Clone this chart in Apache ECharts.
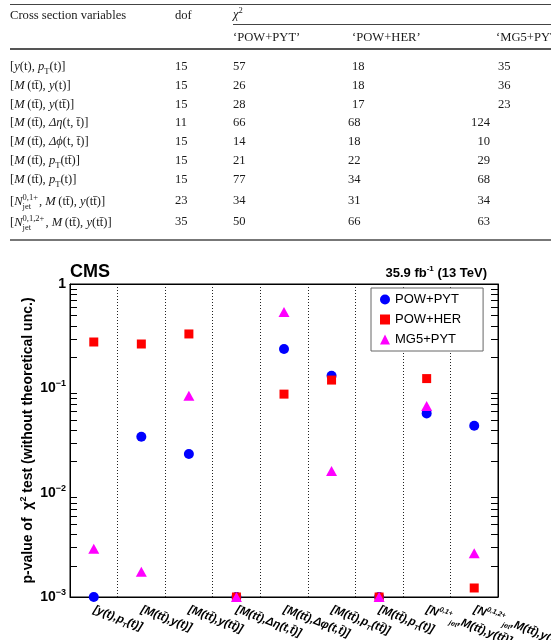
<!DOCTYPE html>
<html>
<head>
<meta charset="utf-8">
<title>p-value of chi2 test</title>
<script src="https://cdn.jsdelivr.net/npm/echarts@6/dist/echarts.min.js"></script>
<style>
    body{margin:0;background:#fff;}
    #main{position:absolute;left:0;top:0;width:551px;height:640px;}
    #tbl{position:absolute;left:0;top:0;width:551px;height:245px;overflow:hidden;z-index:2;
         font-family:"Liberation Serif","Times New Roman",serif;font-size:12.6px;color:#1a1a1a;}
    .c{position:absolute;white-space:nowrap;line-height:14px;height:14px;}
    .r{text-align:right;}
    .rule{position:absolute;left:10px;right:0;}
    sub,sup{font-size:8.5px;line-height:0;}
    .ss{display:inline-flex;flex-direction:column;vertical-align:middle;font-size:8.5px;line-height:9px;margin-right:1px;}
</style>
</head>
<body>
<div id="main"></div>
<div id="tbl"></div>
<script>
// ---- table values (chi2 per model)
var rowLabels = [
    '[<i>y</i>(t), <i>p</i><sub>T</sub>(t)]',
    '[<i>M</i>\u2009(tt\u0304), <i>y</i>(t)]',
    '[<i>M</i>\u2009(tt\u0304), <i>y</i>(tt\u0304)]',
    '[<i>M</i>\u2009(tt\u0304), <i>\u0394\u03b7</i>(t, t\u0304)]',
    '[<i>M</i>\u2009(tt\u0304), <i>\u0394\u03d5</i>(t, t\u0304)]',
    '[<i>M</i>\u2009(tt\u0304), <i>p</i><sub>T</sub>(tt\u0304)]',
    '[<i>M</i>\u2009(tt\u0304), <i>p</i><sub>T</sub>(t)]',
    '[<i>N</i><span class="ss"><span>0,1+</span><span>jet</span></span>, <i>M</i>\u2009(tt\u0304), <i>y</i>(tt\u0304)]',
    '[<i>N</i><span class="ss"><span>0,1,2+</span><span>jet</span></span>, <i>M</i>\u2009(tt\u0304), <i>y</i>(tt\u0304)]'
];
var dof        = [15, 15, 15, 11, 15, 15, 15, 23, 35];
var chi2PowPyt = [57, 26, 28, 66, 14, 21, 77, 34, 50];
var chi2PowHer = [18, 18, 17, 68, 18, 22, 34, 31, 66];
var chi2Mg5Pyt = [35, 36, 23, 124, 10, 29, 68, 34, 63];

// ---- plot values (p-values, 0.001 = off scale at the bottom)
var categories = [
    '{n|[y(t),p}{sub|T}{n|(t)]}',
    '{n|[M(tt\u0304),y(t)]}',
    '{n|[M(tt\u0304),y(tt\u0304)]}',
    '{n|[M(tt\u0304),\u0394\u03b7(t,t\u0304)]}',
    '{n|[M(tt\u0304),\u0394\u03c6(t,t\u0304)]}',
    '{n|[M(tt\u0304),p}{sub|T}{n|(tt\u0304)]}',
    '{n|[M(tt\u0304),p}{sub|T}{n|(t)]}',
    '{n|[N}{sup|0,1+}{sub|jet}{n|,M(tt\u0304),y(tt\u0304)]}',
    '{n|[N}{sup|0,1,2+}{sub|jet}{n|,M(tt\u0304),y(tt\u0304)]}'
];
var pPowPyt = [0.001, 0.0344, 0.0235, 0.001, 0.238, 0.132, 0.001, 0.0575, 0.0438];
var pPowHer = [0.278, 0.266, 0.332, 0.001, 0.088, 0.120, 0.001, 0.124, 0.00122];
var pMg5Pyt = [0.0029, 0.00175, 0.085, 0.001, 0.54, 0.0161, 0.001, 0.0676, 0.00263];
var seriesNames = ['POW+PYT', 'POW+HER', 'MG5+PYT'];

// ---- table
var tbl = document.getElementById('tbl');
function cell(html, x, y, right) {
    var d = document.createElement('div');
    d.className = 'c' + (right ? ' r' : '');
    d.innerHTML = html;
    d.style.top = (y - 7) + 'px';
    if (right) { d.style.right = (551 - x) + 'px'; } else { d.style.left = x + 'px'; }
    tbl.appendChild(d);
}
function rule(y, h, color, left) {
    var d = document.createElement('div');
    d.className = 'rule';
    d.style.top = y + 'px';
    d.style.height = h + 'px';
    d.style.background = color;
    if (left) d.style.left = left + 'px';
    tbl.appendChild(d);
}
rule(4, 1, '#444');
cell('Cross section variables', 10, 15);
cell('dof', 175, 15);
cell('<i>\u03c7</i><sup>2</sup>', 233, 14);
rule(24, 1, '#444', 233);
cell('\u2018POW+PYT\u2019', 233, 37);
cell('\u2018POW+HER\u2019', 352, 37);
cell('\u2018MG5+PYT\u2019', 496, 37);
rule(48, 2, '#555');
var rowY = [66, 85, 104, 122, 141, 160, 179, 200, 221];
for (var i = 0; i < rowLabels.length; i++) {
    cell(rowLabels[i], 10, rowY[i]);
    cell(String(dof[i]), 175, rowY[i]);
    cell(String(chi2PowPyt[i]), 233, rowY[i]);
    cell(String(chi2PowHer[i]), i < 3 ? 352 : 348, rowY[i]);
    if (i < 3) cell(String(chi2Mg5Pyt[i]), 498, rowY[i]);
    else cell(String(chi2Mg5Pyt[i]), 490, rowY[i], true);
}
rule(239, 2, '#777');

// ---- chart
var minorTicks = [];
[0.001, 0.01, 0.1].forEach(function (d) {
    for (var k = 2; k <= 9; k++) minorTicks.push([0, k * d]);
});

var font = '"Liberation Sans", Arial, sans-serif';
var supLabel = {
    b: {fontFamily: font, fontWeight: 'bold', fontSize: 14, lineHeight: 18, color: '#000'},
    s: {fontFamily: font, fontWeight: 'bold', fontSize: 9, lineHeight: 10, verticalAlign: 'top', color: '#000'}
};
var xRich = {
    n: {fontFamily: font, fontWeight: 'bold', fontStyle: 'italic', fontSize: 11.5, lineHeight: 16, color: '#000'},
    sub: {fontFamily: font, fontWeight: 'bold', fontStyle: 'italic', fontSize: 7, lineHeight: 8, verticalAlign: 'bottom', color: '#000'},
    sup: {fontFamily: font, fontWeight: 'bold', fontStyle: 'italic', fontSize: 7, lineHeight: 8, verticalAlign: 'top', color: '#000'}
};
var black = {color: '#000', width: 1};

var myChart = echarts.init(document.getElementById('main'));
var option = {
    backgroundColor: '#fff',
    animation: false,
    grid: {left: 70, right: 53, top: 284, bottom: 43, show: true, borderColor: '#000', borderWidth: 1,
           containLabel: false, outerBoundsMode: 'none'},
    legend: {
        data: seriesNames,
        orient: 'vertical',
        left: 371, top: 288,
        padding: [5, 22, 5, 9],
        itemGap: 7, itemWidth: 10, itemHeight: 10,
        borderColor: '#666', borderWidth: 1, backgroundColor: '#fff',
        textStyle: {fontFamily: font, fontSize: 13, color: '#000'}
    },
    graphic: [
        {type: 'text', left: 70, top: 263, z: 10,
         style: {text: 'CMS', font: 'bold 18px ' + font, fill: '#000'}},
        {type: 'text', right: 64, top: 265, z: 10,
         style: {text: '{b|35.9 fb}{s|-1}{b| (13 TeV)}',
                 rich: {b: {fontFamily: font, fontWeight: 'bold', fontSize: 13, lineHeight: 16, fill: '#000'},
                        s: {fontFamily: font, fontWeight: 'bold', fontSize: 8, lineHeight: 9, verticalAlign: 'top', fill: '#000'}}}}
    ],
    xAxis: [{
        type: 'category', data: categories, position: 'bottom',
        axisLine: {lineStyle: black},
        axisTick: {inside: true, length: 8, lineStyle: black},
        axisLabel: {interval: 0, rotate: -21, margin: 12, rich: xRich},
        splitLine: {show: true, lineStyle: {color: '#222', width: 1, type: [1, 2]}}
    }, {
        type: 'category', data: categories, position: 'top',
        axisLine: {lineStyle: black},
        axisTick: {inside: true, length: 8, lineStyle: black},
        axisLabel: {show: false}
    }],
    yAxis: [{
        type: 'log', logBase: 10, min: 0.001, max: 1, splitNumber: 3, position: 'left',
        axisLine: {show: true, lineStyle: black},
        axisTick: {inside: true, length: 12, lineStyle: black},
        splitLine: {show: false},
        axisLabel: {
            margin: 4, rich: supLabel,
            formatter: function (v) {
                var e = Math.round(Math.log10(v));
                return e === 0 ? '{b|1}' : '{b|10}{s|\u2212' + (-e) + '}';
            }
        },
        name: '{a|p-value of  \u03c7}{s|2}{a| test (without theoretical unc.)}',
        nameLocation: 'middle', nameGap: 33, nameRotate: 90, nameMoveOverlap: false,
        nameTextStyle: {rich: {
            a: {fontFamily: font, fontWeight: 'bold', fontSize: 14, lineHeight: 18, color: '#000'},
            s: {fontFamily: font, fontWeight: 'bold', fontSize: 9, lineHeight: 10, verticalAlign: 'top', color: '#000'}
        }}
    }, {
        type: 'log', logBase: 10, min: 0.001, max: 1, splitNumber: 3, position: 'right',
        axisLine: {show: true, lineStyle: black},
        axisTick: {inside: true, length: 12, lineStyle: black},
        splitLine: {show: false},
        axisLabel: {show: false}
    }],
    series: [{
        type: 'custom', silent: true, clip: false,
        data: minorTicks, encode: {x: 0, y: 1},
        renderItem: function (params, api) {
            var y = Math.round(api.coord([0, api.value(1)])[1]) + 0.5;
            var cs = params.coordSys;
            return {type: 'group', children: [
                {type: 'line', shape: {x1: cs.x, y1: y, x2: cs.x + 7, y2: y}, style: {stroke: '#000', lineWidth: 1}},
                {type: 'line', shape: {x1: cs.x + cs.width - 7, y1: y, x2: cs.x + cs.width, y2: y}, style: {stroke: '#000', lineWidth: 1}}
            ]};
        }
    }, {
        name: seriesNames[0], type: 'scatter', data: pPowPyt, clip: false,
        symbol: 'circle', symbolSize: 10, itemStyle: {color: '#0000ff', opacity: 1}
    }, {
        name: seriesNames[1], type: 'scatter', data: pPowHer, clip: false,
        symbol: 'rect', symbolSize: 9, itemStyle: {color: '#ff0000', opacity: 1}
    }, {
        name: seriesNames[2], type: 'scatter', data: pMg5Pyt, clip: false,
        symbol: 'triangle', symbolSize: [11, 10], itemStyle: {color: '#ff00ff', opacity: 1}
    }]
};
myChart.setOption(option);
</script>
</body>
</html>
